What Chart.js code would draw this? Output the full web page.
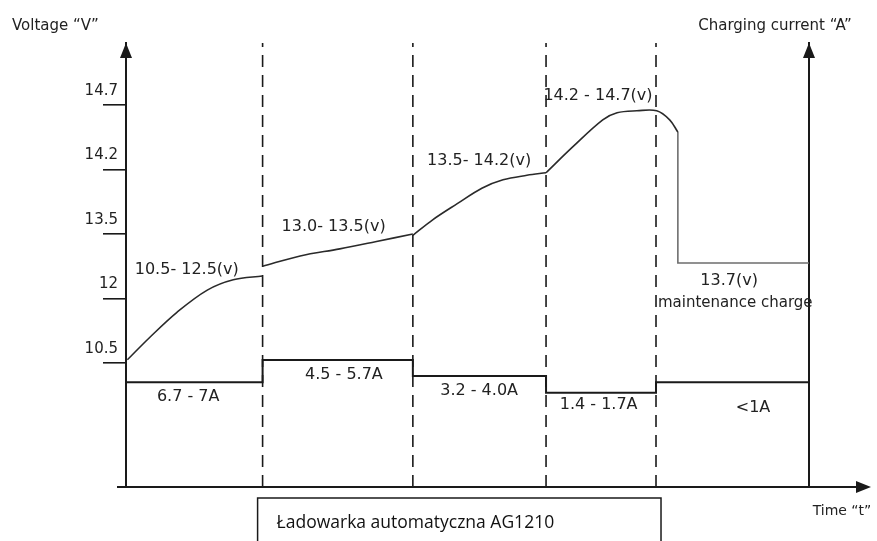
<!DOCTYPE html>
<html>
<head>
<meta charset="utf-8">
<title>Ładowarka automatyczna AG1210</title>
<script src="https://cdn.jsdelivr.net/npm/chart.js@4.4.1/dist/chart.umd.min.js"></script>
<style>
  html, body { margin: 0; padding: 0; background: #fff; }
</style>
</head>
<body>
<canvas id="ladowanie" width="877" height="541"></canvas>
<script>
// Charakterystyka ładowania: napięcie (lewa oś) i prąd ładowania (prawa oś) w kolejnych fazach.

// Granice faz na osi czasu (jednostki umowne 0-100)
const phaseBounds = [0, 20, 42, 61.5, 77.6, 100];

// Etykiety osi napięcia - na rysunku rozmieszczone równo, nie proporcjonalnie
const voltTicks = ["10.5", "12", "13.5", "14.2", "14.7"];

// Przebieg napięcia: [czas, poziom osi] (0 = 10.5, 4 = 14.7)
const voltPhase1 = [[0.2, 0.05], [3.5, 0.4], [7.5, 0.79], [11.9, 1.13], [15.7, 1.29], [20, 1.35]];
const voltPhase2 = [[20, 1.5], [25.5, 1.66], [31.3, 1.77], [36.5, 1.88], [42, 2.0]];
const voltPhase3 = [[42, 1.98], [44.9, 2.22], [48.5, 2.47], [52.1, 2.71], [55.2, 2.84], [58.7, 2.91], [61.5, 2.95]];
const voltPhase4 = [[61.5, 2.95], [65.4, 3.35], [69.8, 3.77], [71.9, 3.88], [74.8, 3.91], [77.7, 3.91], [79.6, 3.77], [80.8, 3.58]];
const voltFloat = [[80.8, 3.58], [80.8, 1.55], [100, 1.55]];

// Prąd ładowania w każdej fazie (poziom na prawej osi, bez podziałki)
const currentLevels = [2.36, 2.86, 2.5, 2.12, 2.36];

// Opisy faz
const voltNotes = ["10.5- 12.5(v)", "13.0- 13.5(v)", "13.5- 14.2(v)", "14.2 - 14.7(v)"];
const currentNotes = ["6.7 - 7A", "4.5 - 5.7A", "3.2 - 4.0A", "1.4 - 1.7A", "<1A"];

const Y_MIN = -1.922, Y_MAX = 4.961;
const FONT = "'DejaVu Sans', sans-serif";
const INK = "#1a1a1a";

// Położenie opisów (czas, poziom osi napięcia)
const voltNotePos = [[8.9, 1.44], [30.4, 2.11], [51.7, 3.13], [69.1, 4.14]];
const currentNotePos = [[9.1, -0.53], [31.9, -0.19], [51.7, -0.43], [69.2, -0.65], [91.8, -0.7]];

const toXY = (pts) => pts.map(([x, y]) => ({ x, y }));

const voltLine = (pts, color, tension) => ({
  data: toXY(pts),
  yAxisID: "y",
  borderColor: color,
  borderWidth: 1.6,
  tension: tension,
  pointRadius: 0,
});

// Prąd: linia schodkowa zbudowana z granic faz
const currentData = phaseBounds.map((b, i) => ({
  x: b,
  y: currentLevels[Math.min(i, currentLevels.length - 1)],
}));

// Przerywane linie oddzielające fazy
const dividers = phaseBounds.slice(1, -1).map((b) => ({
  data: [{ x: b, y: Y_MIN }, { x: b, y: Y_MAX }],
  yAxisID: "y",
  borderColor: INK,
  borderWidth: 1.6,
  borderDash: [12, 8],
  pointRadius: 0,
}));

function arrow(ctx, x, y, dir) {
  ctx.beginPath();
  if (dir === "up") {
    ctx.moveTo(x, y);
    ctx.lineTo(x - 6, y + 15);
    ctx.lineTo(x + 6, y + 15);
  } else {
    ctx.moveTo(x, y);
    ctx.lineTo(x - 15, y - 6);
    ctx.lineTo(x - 15, y + 6);
  }
  ctx.closePath();
  ctx.fill();
}

const overlay = {
  id: "overlay",
  afterDraw(chart) {
    const { ctx, chartArea: a, scales } = chart;
    const sx = scales.x, sy = scales.y;
    ctx.save();
    ctx.strokeStyle = INK;
    ctx.fillStyle = INK;

    // przedłużenie osi czasu i strzałki
    ctx.lineWidth = 2;
    ctx.beginPath();
    ctx.moveTo(a.left - 9, a.bottom);
    ctx.lineTo(a.right + 55, a.bottom);
    ctx.stroke();
    arrow(ctx, a.left, a.top, "up");
    arrow(ctx, a.right, a.top, "up");
    arrow(ctx, a.right + 62, a.bottom, "right");

    // opisy
    ctx.font = "16px " + FONT;
    ctx.fillStyle = "#222";
    ctx.textAlign = "center";
    ctx.textBaseline = "middle";
    voltNotes.forEach((t, i) => {
      const [nx, ny] = voltNotePos[i];
      ctx.fillText(t, sx.getPixelForValue(nx), sy.getPixelForValue(ny));
    });
    currentNotes.forEach((t, i) => {
      const [nx, ny] = currentNotePos[i];
      ctx.fillText(t, sx.getPixelForValue(nx), sy.getPixelForValue(ny));
    });
    ctx.fillText("13.7(v)", sx.getPixelForValue(88.3), sy.getPixelForValue(1.27));
    ctx.font = "15px " + FONT;
    ctx.fillText("maintenance charge", sx.getPixelForValue(89.2), sy.getPixelForValue(0.93));

    // tytuły osi
    ctx.textBaseline = "alphabetic";
    ctx.textAlign = "left";
    ctx.fillText("Voltage \u201cV\u201d", 12, 30);
    ctx.textAlign = "center";
    ctx.fillText("Charging current \u201cA\u201d", a.right - 34, 30);
    ctx.font = "14px " + FONT;
    ctx.fillText("Time \u201ct\u201d", a.right + 33, a.bottom + 28);

    // ramka z nazwą ładowarki
    const bl = sx.getPixelForValue(phaseBounds[1]) - 5;
    const br = sx.getPixelForValue(phaseBounds[4]) + 5;
    const bt = a.bottom + 11;
    ctx.lineWidth = 1.5;
    ctx.strokeRect(bl, bt, br - bl, chart.height - bt + 5);
    ctx.font = "17.5px 'Open Sans', sans-serif";
    ctx.fillStyle = "#111";
    ctx.textAlign = "left";
    ctx.fillText("Ładowarka automatyczna AG1210", bl + 19, bt + 30);
    ctx.restore();
  },
};

new Chart(document.getElementById("ladowanie"), {
  type: "line",
  data: {
    datasets: [
      voltLine(voltPhase1, "#2a2a2a", 0.35),
      voltLine(voltPhase2, "#2a2a2a", 0.35),
      voltLine(voltPhase3, "#2a2a2a", 0.35),
      voltLine(voltPhase4, "#2a2a2a", 0.35),
      voltLine(voltFloat, "#6e6e6e", 0),
      {
        data: currentData,
        yAxisID: "y2",
        stepped: "before",
        borderColor: INK,
        borderWidth: 2,
        pointRadius: 0,
      },
      ...dividers,
    ],
  },
  options: {
    responsive: false,
    animation: false,
    layout: { padding: { top: 43, left: 0, right: 0, bottom: 0 } },
    plugins: { legend: { display: false }, tooltip: { enabled: false } },
    scales: {
      x: {
        type: "linear",
        min: 0,
        max: 100,
        ticks: { display: false },
        grid: { drawOnChartArea: false, drawTicks: false },
        border: { color: INK, width: 2 },
        afterFit: (s) => { s.height = 54; },
      },
      y: {
        type: "linear",
        position: "left",
        min: Y_MIN,
        max: Y_MAX,
        afterBuildTicks: (s) => { s.ticks = voltTicks.map((_, i) => ({ value: i })); },
        ticks: {
          callback: (v, i) => voltTicks[i],
          font: { family: FONT, size: 15 },
          color: "#222",
          padding: -15,
          labelOffset: -14,
        },
        grid: { drawOnChartArea: false, drawTicks: true, tickLength: 23, color: INK, lineWidth: 1.6 },
        border: { color: INK, width: 2 },
        afterFit: (s) => { s.width = 126; },
      },
      y2: {
        type: "linear",
        position: "right",
        min: 0,
        max: 10,
        ticks: { display: false },
        grid: { drawOnChartArea: false, drawTicks: false },
        border: { color: INK, width: 2 },
        afterFit: (s) => { s.width = 68; },
      },
    },
  },
  plugins: [overlay],
});
</script>
</body>
</html>
